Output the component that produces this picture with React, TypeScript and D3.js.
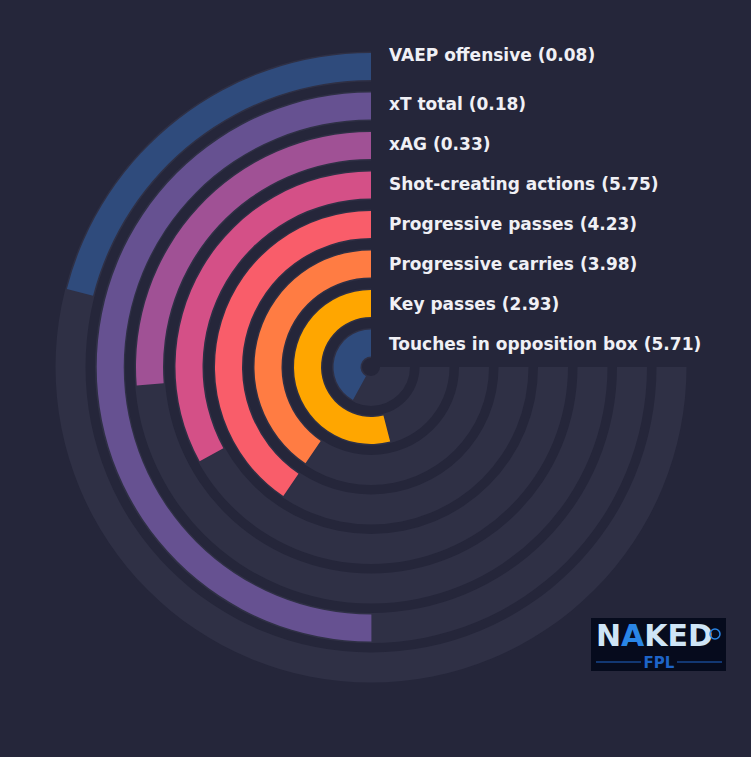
import React, { useEffect, useRef } from 'react';
import * as d3 from 'd3';

// metrics, outer ring first
const categories = [
  'VAEP offensive',
  'xT total',
  'xAG',
  'Shot-creating actions',
  'Progressive passes',
  'Progressive carries',
  'Key passes',
  'Touches in opposition box',
];
const values = [0.08, 0.18, 0.33, 5.75, 4.23, 3.98, 2.93, 5.71];
// percentile rank shown by the arc length (100 = full 270deg track)
const percentiles = [28, 66.7, 35, 44, 54, 54, 72, 56];
const colors = ['#2f4b7c', '#665191', '#a05195', '#d45087', '#f95d6a', '#ff7c43', '#ffa600', '#2f4b7c'];

const W = 751;
const H = 757;
const BG = '#25263a';
const TRACK = '#2f3045';

const App: React.FC = () => {
  const svgRef = useRef<SVGSVGElement>(null);

  useEffect(() => {
    if (!svgRef.current) return;
    const svg = d3.select(svgRef.current);
    svg.selectAll('*').remove();

    const cx = 371;
    const cy = 367;

    svg.append('rect').attr('width', W).attr('height', H).attr('fill', BG);

    // innermost ring = last category
    const rScale = d3.scaleBand<string>()
      .domain([...categories].reverse())
      .range([10.5, 314])
      .paddingInner(0.316)
      .paddingOuter(0);

    const aScale = d3.scaleLinear().domain([0, 100]).range([0, -1.5 * Math.PI]);

    // label rows: innermost at the bottom
    const yLabel = d3.scaleLinear().domain([0, 7]).range([-23, -303]);

    const arc = d3.arc<any>();
    const g = svg.append('g').attr('transform', `translate(${cx},${cy})`);

    // background tracks
    g.selectAll('path.track')
      .data(categories)
      .enter()
      .append('path')
      .attr('class', 'track')
      .attr('fill', TRACK)
      .attr('d', (d: string) => arc({
        innerRadius: rScale(d)! - 1.5,
        outerRadius: rScale(d)! + rScale.bandwidth() + 1.5,
        startAngle: aScale(0),
        endAngle: aScale(100),
      }));

    // value bars
    g.selectAll('path.bar')
      .data(categories)
      .enter()
      .append('path')
      .attr('class', 'bar')
      .attr('fill', (_d: string, i: number) => colors[i])
      .attr('d', (d: string, i: number) => arc({
        innerRadius: rScale(d)!,
        outerRadius: rScale(d)! + rScale.bandwidth(),
        startAngle: aScale(0),
        endAngle: aScale(percentiles[i]),
      }));

    // labels in the empty quadrant
    g.selectAll('text.lbl')
      .data(categories)
      .enter()
      .append('text')
      .attr('class', 'lbl')
      .attr('x', 18)
      .attr('y', (_d: string, i: number) => yLabel(categories.length - 1 - i) + (i === 0 ? -9 : 0))
      .attr('dominant-baseline', 'central')
      .attr('font-family', 'DejaVu Sans')
      .attr('font-weight', 'bold')
      .attr('font-size', 17)
      .attr('fill', '#f0f0f5')
      .text((d: string, i: number) => `${d} (${values[i].toFixed(2)})`);

    // logo
    const logo = svg.append('g').attr('transform', 'translate(591,618)');
    logo.append('rect').attr('width', 135).attr('height', 53).attr('fill', '#060b1d');
    const t = logo.append('text')
      .attr('x', 5)
      .attr('y', 28)
      .attr('font-family', 'DejaVu Sans')
      .attr('font-weight', 'bold')
      .attr('font-size', 31)
      .attr('textLength', 117)
      .attr('lengthAdjust', 'spacingAndGlyphs')
      .attr('fill', '#cfe5f6');
    t.append('tspan').text('N');
    t.append('tspan').attr('fill', '#2a86e6').text('A');
    t.append('tspan').text('KED');
    logo.append('circle').attr('cx', 124).attr('cy', 16).attr('r', 5)
      .attr('fill', 'none').attr('stroke', '#2a86e6').attr('stroke-width', 1.5);
    logo.append('line').attr('x1', 5).attr('x2', 50).attr('y1', 44).attr('y2', 44)
      .attr('stroke', '#1e64c8').attr('stroke-width', 1);
    logo.append('line').attr('x1', 86).attr('x2', 131).attr('y1', 44).attr('y2', 44)
      .attr('stroke', '#1e64c8').attr('stroke-width', 1);
    logo.append('text')
      .attr('x', 68)
      .attr('y', 50)
      .attr('text-anchor', 'middle')
      .attr('font-family', 'DejaVu Sans')
      .attr('font-weight', 'bold')
      .attr('font-size', 15)
      .attr('fill', '#1e64c8')
      .text('FPL');
  }, []);

  return (
    <div style={{ position: 'absolute', left: 0, top: 0 }}>
      <svg ref={svgRef} width={W} height={H} style={{ display: 'block' }}></svg>
    </div>
  );
};

export default App;
